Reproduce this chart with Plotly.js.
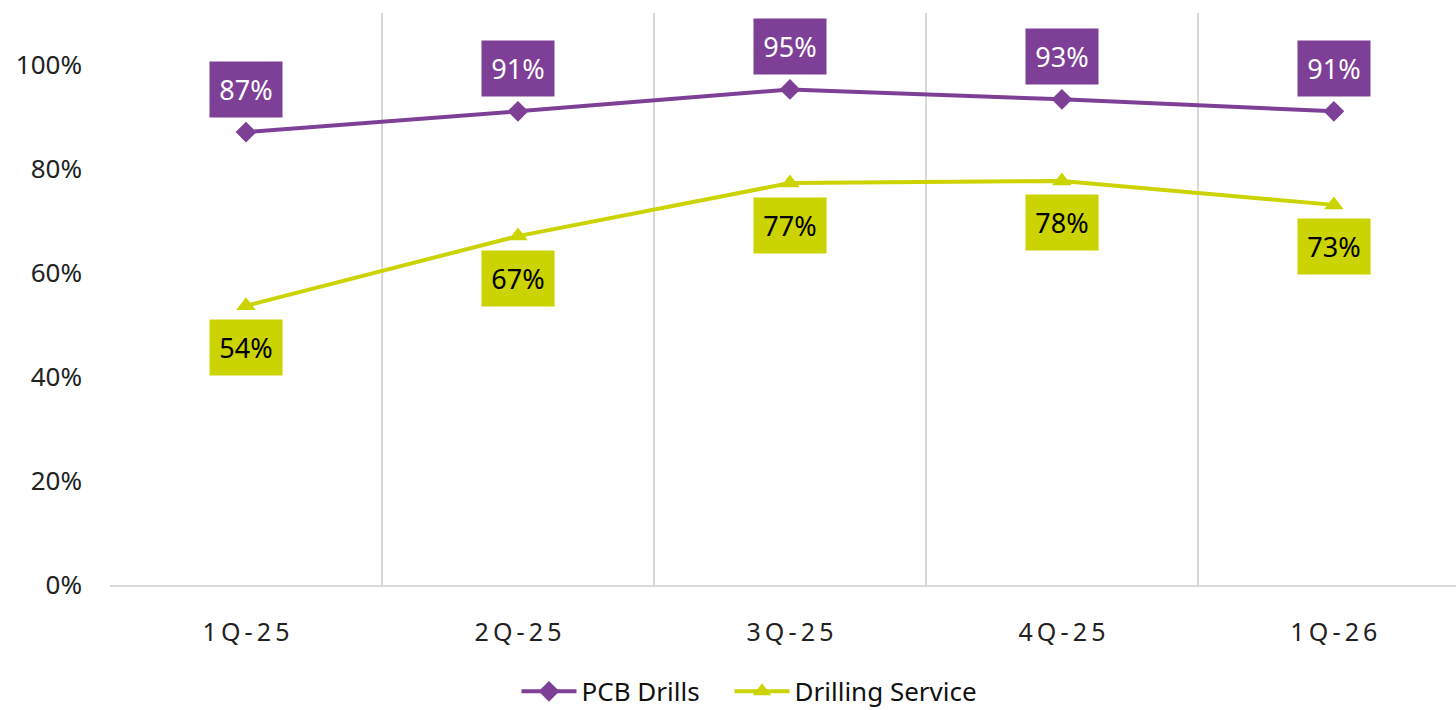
<!DOCTYPE html>
<html>
<head>
<meta charset="utf-8">
<script src="https://cdn.plot.ly/plotly-3.0.1.min.js"></script>
<style>html,body{margin:0;padding:0;background:#fff;}#chart{width:1456px;height:710px;}</style>
</head>
<body>
<div id="chart"></div>
<script>
const categories = ["1Q-25", "2Q-25", "3Q-25", "4Q-25", "1Q-26"];
const pcbDrills = [0.871, 0.911, 0.953, 0.934, 0.911];
const pcbLabels = ["87%", "91%", "95%", "93%", "91%"];
const drillingService = [0.537, 0.671, 0.773, 0.777, 0.731];
const drillingLabels = ["54%", "67%", "77%", "78%", "73%"];

const purple = "#7E3F97";
const lime = "#CBD300";
const FONT = "Noto Sans, Open Sans, sans-serif";

const traces = [
  {
    x: categories, y: pcbDrills, name: "PCB Drills", type: "scatter", mode: "lines+markers",
    line: {color: purple, width: 4}, marker: {symbol: "diamond", size: 16, color: purple},
    hoverinfo: "skip", legend: "legend"
  },
  {
    x: categories, y: drillingService, name: "Drilling Service", type: "scatter", mode: "lines+markers",
    line: {color: lime, width: 4}, marker: {symbol: "triangle-up", size: 17, color: lime},
    hoverinfo: "skip", legend: "legend2"
  }
];

const annotations = [];
categories.forEach((c, i) => {
  annotations.push({
    x: c, y: pcbDrills[i], xref: "x", yref: "y", text: pcbLabels[i], showarrow: false,
    yshift: 43, width: 72, height: 55, bgcolor: purple, borderpad: 0,
    font: {family: FONT, size: 27, color: "#ffffff"}
  });
  annotations.push({
    x: c, y: drillingService[i], xref: "x", yref: "y", text: drillingLabels[i], showarrow: false,
    yshift: -42, width: 72, height: 55, bgcolor: lime, borderpad: 0,
    font: {family: FONT, size: 27, color: "#000000"}
  });
});

// spaced-out category tick labels (visual letter spacing only)
const tickText = categories.map(c => c.split("").join("\u2009"));

const legendBase = {
  orientation: "h", xanchor: "left", y: -0.145, yanchor: "top",
  font: {family: FONT, size: 26, color: "#111111"}, itemwidth: 55
};

const layout = {
  width: 1456, height: 710,
  margin: {l: 110, r: 0, t: 13, b: 125, autoexpand: false},
  paper_bgcolor: "#ffffff", plot_bgcolor: "#ffffff",
  font: {family: FONT, size: 25, color: "#222222"},
  showlegend: true,
  legend: Object.assign({}, legendBase, {x: 0.302}),
  legend2: Object.assign({}, legendBase, {x: 0.4603}),
  xaxis: {
    type: "category", range: [-0.5, 4.449], tickson: "boundaries",
    tickvals: categories, ticktext: tickText,
    showgrid: true, gridcolor: "#d9d9d9", gridwidth: 2,
    showline: true, linecolor: "#d9d9d9", linewidth: 2,
    ticks: "", ticklabelstandoff: 24, zeroline: false,
    tickfont: {family: FONT, size: 25, color: "#222222"}
  },
  yaxis: {
    range: [0, 1.1], tickvals: [0, 0.2, 0.4, 0.6, 0.8, 1.0], tickformat: ".0%",
    showgrid: false, zeroline: false, showline: false, ticks: "",
    ticklabelstandoff: 27,
    tickfont: {family: FONT, size: 26, color: "#222222"}
  },
  annotations: annotations
};

Plotly.newPlot("chart", traces, layout, {staticPlot: true});
</script>
</body>
</html>
